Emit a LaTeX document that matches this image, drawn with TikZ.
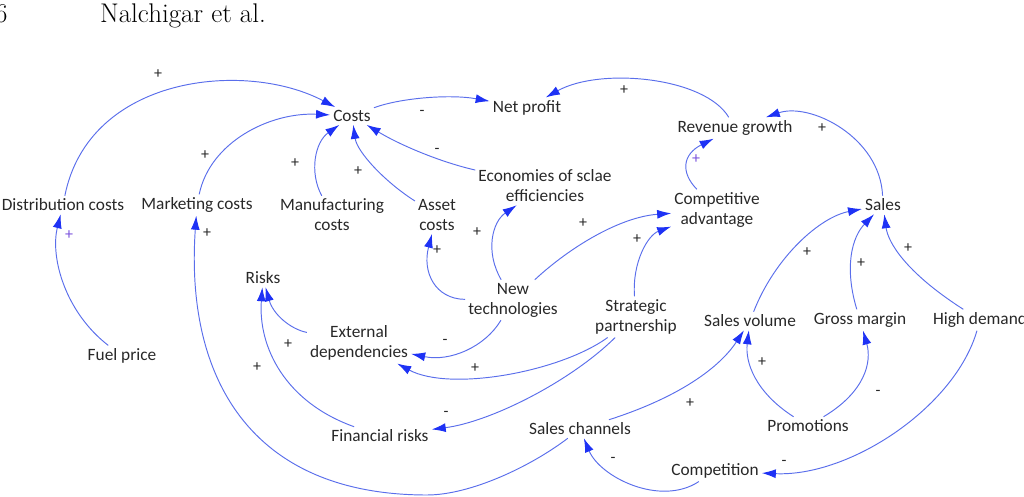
\documentclass[tikz,border=0pt]{standalone}
\usepackage{fontspec}
\newfontfamily\carl{Carlito}
\usetikzlibrary{arrows.meta}
\definecolor{lineblue}{RGB}{90,110,235}
\definecolor{tipblue}{RGB}{30,50,245}
\definecolor{txtgray}{RGB}{40,40,40}
\definecolor{plumsign}{RGB}{120,80,220}
\tikzset{
  v/.style={font=\carl\fontsize{17.3}{20}\selectfont, text=txtgray, inner sep=3pt, align=center},
  sgn/.style={font=\carl\fontsize{16}{17}\selectfont, text=txtgray, inner sep=0pt},
  psgn/.style={sgn, text=plumsign},
  arr/.style={draw=lineblue, line width=0.95pt, -{Latex[length=14pt,width=9pt,color=tipblue]}}
}
\begin{document}
\begin{tikzpicture}[x=1pt,y=1pt]
\useasboundingbox (0,0) rectangle (1024,497);
% header
\node[anchor=base west, inner sep=0pt, font=\fontsize{27}{30}\selectfont] (pg) at (-5,474) {6};
\node[anchor=base, inner sep=0pt, font=\fontsize{27}{30}\selectfont] (hdr) at (183,474) {Nalchigar et al.};
% nodes
\node[v] (costs) at (352,381) {Costs};
\node[v] (netp) at (527,389) {Net profit};
\node[v] (rev) at (735,369) {Revenue growth};
\node[v] (econ) at (545,311) {Economies of sclae\\efficiencies};
\node[v] (comp) at (717,287) {Competitive\\advantage};
\node[v] (sales) at (883,292) {Sales};
\node[v] (dist) at (63,292) {Distribution costs};
\node[v] (mkt) at (197,292) {Marketing costs};
\node[v] (manuf) at (332,282) {Manufacturing\\costs};
\node[v] (asset) at (437,282) {Asset\\costs};
\node[v] (risks) at (263,219) {Risks};
\node[v] (ext) at (359,154) {External\\dependencies};
\node[v] (newt) at (513,197) {New\\technologies};
\node[v] (strat) at (636,180) {Strategic\\partnership};
\node[v] (svol) at (750,176) {Sales volume};
\node[v] (gross) at (860,177) {Gross margin};
\node[v] (high) at (980,177) {High demand};
\node[v] (fuel) at (122,141) {Fuel price};
\node[v] (fin) at (380,61) {Financial risks};
\node[v] (chan) at (580,68) {Sales channels};
\node[v] (promo) at (808,71) {Promotions};
\node[v] (compet) at (715,26) {Competition};
% connectors
\draw[arr] (dist) .. controls (89,422) and (246,437) .. (costs);
\draw[arr] (mkt) .. controls (210,355) and (270,385) .. (costs);
\draw[arr] (manuf) .. controls (309,325) and (315,355) .. (costs);
\draw[arr] (asset) .. controls (385,315) and (357,345) .. (costs);
\draw[arr] (econ) .. controls (440,335) and (400,352) .. (costs);
\draw[arr] (costs) .. controls (400,399) and (450,403) .. (netp);
\draw[arr] (rev) .. controls (705,420) and (600,430) .. (netp);
\draw[arr] (sales) .. controls (880,360) and (810,395) .. (rev);
\draw[arr] (comp) .. controls (680,325) and (683,343) .. (rev);
\draw[arr] (fuel) .. controls (65,185) and (50,240) .. (dist);
\draw[arr] (chan) .. controls (530,30) and (470,2) .. (427,2) .. controls (250,2) and (185,120) .. (mkt);
\draw[arr] (newt) .. controls (435,198) and (422,225) .. (asset);
\draw[arr] (newt) .. controls (485,245) and (492,275) .. (econ);
\draw[arr] (newt) .. controls (570,250) and (620,280) .. (comp);
\draw[arr] (strat) .. controls (632,235) and (648,262) .. (comp);
\draw[arr] (ext) .. controls (290,168) and (273,183) .. (risks);
\draw[arr] (fin) .. controls (285,95) and (258,150) .. (risks);
\draw[arr] (newt) .. controls (485,150) and (450,135) .. (ext);
\draw[arr] (strat) .. controls (560,125) and (450,105) .. (ext);
\draw[arr] (strat) .. controls (570,115) and (490,75) .. (fin);
\draw[arr] (svol) .. controls (775,240) and (820,280) .. (sales);
\draw[arr] (gross) .. controls (844,230) and (852,260) .. (sales);
\draw[arr] (high) .. controls (905,225) and (888,255) .. (sales);
\draw[arr] (promo) .. controls (755,105) and (745,135) .. (svol);
\draw[arr] (promo) .. controls (865,105) and (872,135) .. (gross);
\draw[arr] (chan) .. controls (680,100) and (720,130) .. (svol);
\draw[arr] (high) .. controls (955,90) and (850,20) .. (compet);
\draw[arr] (compet) .. controls (660,-10) and (600,20) .. (chan);
% signs
\node[sgn] (s1) at (158,423) {+};
\node[sgn] (s2) at (205,342) {+};
\node[sgn] (s3) at (295,334) {+};
\node[sgn] (s4) at (358,326) {+};
\node[sgn] (s5) at (422,384) {-};
\node[sgn] (s6) at (437,346) {-};
\node[sgn] (s7) at (624,407) {+};
\node[sgn] (s8) at (822,369) {+};
\node[psgn] (s9) at (696,338) {+};
\node[psgn] (s10) at (69,262) {+};
\node[sgn] (s11) at (207,264) {+};
\node[sgn] (s12) at (437,247) {+};
\node[sgn] (s13) at (477,265) {+};
\node[sgn] (s14) at (583,274) {+};
\node[sgn] (s15) at (637,258) {+};
\node[sgn] (s16) at (288,153) {+};
\node[sgn] (s17) at (257,130) {+};
\node[sgn] (s18) at (445,155) {-};
\node[sgn] (s19) at (475,129) {+};
\node[sgn] (s20) at (446,83) {-};
\node[sgn] (s21) at (807,245) {+};
\node[sgn] (s22) at (861,234) {+};
\node[sgn] (s23) at (908,249) {+};
\node[sgn] (s24) at (762,135) {+};
\node[sgn] (s25) at (878,104) {-};
\node[sgn] (s26) at (690,94) {+};
\node[sgn] (s27) at (784,34) {-};
\node[sgn] (s28) at (613,37) {-};
\end{tikzpicture}
\end{document}
